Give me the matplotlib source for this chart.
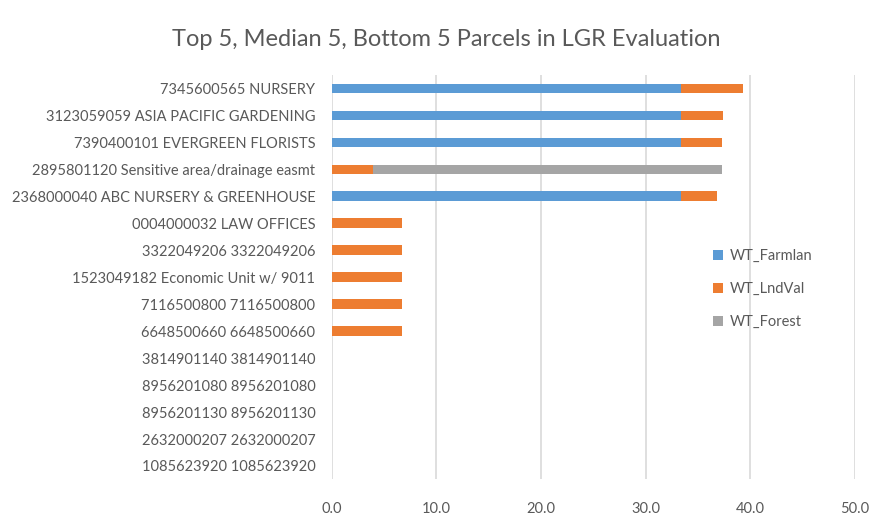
import matplotlib
matplotlib.use("Agg")
import matplotlib.pyplot as plt
import numpy as np

categories = [
    "7345600565 NURSERY",
    "3123059059 ASIA PACIFIC GARDENING",
    "7390400101 EVERGREEN FLORISTS",
    "2895801120 Sensitive area/drainage easmt",
    "2368000040 ABC NURSERY & GREENHOUSE",
    "0004000032 LAW OFFICES",
    "3322049206 3322049206",
    "1523049182 Economic Unit w/ 9011",
    "7116500800 7116500800",
    "6648500660 6648500660",
    "3814901140 3814901140",
    "8956201080 8956201080",
    "8956201130 8956201130",
    "2632000207 2632000207",
    "1085623920 1085623920",
]
wt_farmlan = [33.35, 33.35, 33.35, 0, 33.35, 0, 0, 0, 0, 0, 0, 0, 0, 0, 0]
wt_lndval = [5.95, 4.05, 3.95, 3.95, 3.45, 6.75, 6.75, 6.75, 6.75, 6.75, 0, 0, 0, 0, 0]
wt_forest = [0, 0, 0, 33.35, 0, 0, 0, 0, 0, 0, 0, 0, 0, 0, 0]
xticks = [0, 10, 20, 30, 40, 50]

plt.rcParams['font.family'] = ['Lato', 'DejaVu Sans']
fig = plt.figure(figsize=(8.93, 5.29), dpi=100)
ax = fig.add_axes([0.3717, 0.0936, 0.5853, 0.765])

y = np.arange(len(categories))
h = 0.35
c_f, c_l, c_g = "#5b9bd5", "#ed7d31", "#a5a5a5"
f = np.array(wt_farmlan); l = np.array(wt_lndval); g = np.array(wt_forest)
ax.barh(y, f, height=h, color=c_f, label="WT_Farmlan", zorder=3)
ax.barh(y, l, left=f, height=h, color=c_l, label="WT_LndVal", zorder=3)
ax.barh(y, g, left=f + l, height=h, color=c_g, label="WT_Forest", zorder=3)

ax.set_ylim(len(categories) - 0.5, -0.5)
ax.set_yticks(y)
ax.set_yticklabels(categories, fontsize=10.5, color="#595959")
ax.set_xlim(0, 50)
ax.set_xticks(xticks)
ax.set_xticklabels([f"{v:.1f}" for v in xticks], fontsize=10.5, color="#595959")
ax.tick_params(axis='both', length=0)
ax.tick_params(axis='x', pad=16)
ax.tick_params(axis='y', pad=12)
ax.grid(axis='x', color="#d9d9d9", linewidth=1.2, zorder=0)
for s in ax.spines.values():
    s.set_visible(False)

leg = ax.legend(loc="center left", bbox_to_anchor=(0.784, 0.4537),
                bbox_transform=fig.transFigure, frameon=False,
                fontsize=10.5, labelcolor="#595959", handlelength=0.7,
                handleheight=0.7, handletextpad=0.4, labelspacing=1.3)

fig.text(0.5, 0.926, "Top 5, Median 5, Bottom 5 Parcels in LGR Evaluation",
         ha="center", va="center", fontsize=17, color="#595959")

fig.savefig("out.png", dpi=100)
